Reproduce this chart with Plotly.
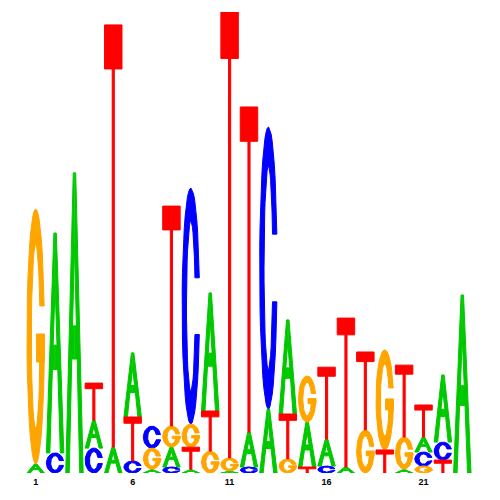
import math
import plotly.graph_objects as go

# ---- data (bits per letter at each position) ----
positions = list(range(1, 24))
A = [0.039, 0.954, 1.302, 0.121, 0.113, 0.278, 0.017, 0.087, 0.017, 0.512, 0.009, 0.152,
     0.278, 0.408, 0.195, 0.117, 0.026, 0.0, 0.0, 0.017, 0.065, 0.291, 0.772]
C = [0.0, 0.087, 0.0, 0.108, 0.0, 0.052, 0.095, 0.026, 1.024, 0.0, 0.0, 0.026,
     1.223, 0.0, 0.0, 0.030, 0.0, 0.0, 0.0, 0.0, 0.061, 0.078, 0.0]
G = [1.106, 0.0, 0.0, 0.0, 0.0, 0.0, 0.091, 0.091, 0.100, 0.095, 0.056, 0.0,
     0.0, 0.061, 0.200, 0.0, 0.0, 0.187, 0.434, 0.139, 0.030, 0.0, 0.0]
T = [0.0, 0.0, 0.0, 0.161, 1.831, 0.191, 0.0, 0.954, 0.095, 0.174, 1.935, 1.410,
     0.0, 0.195, 0.026, 0.312, 0.646, 0.338, 0.100, 0.312, 0.139, 0.056, 0.0]
tick_positions = [1, 6, 11, 16, 21]
tick_labels = ["1", "6", "11", "16", "21"]

COLORS = {"A": "#00C800", "C": "#0000FF", "G": "#FFA500", "T": "#FF0000"}


# ---- glyph templates in a unit box ----
def arc(cx, cy, rx, ry, a0, a1, n=40):
    pts = []
    for i in range(n + 1):
        a = math.radians(a0 + (a1 - a0) * i / n)
        pts.append((cx + rx * math.cos(a), cy + ry * math.sin(a)))
    return pts


def glyph_A(h):
    left = [(0, 0), (0.43, 1), (0.52, 1), (0.52, 0.76), (0.5, 0.76), (0.39, 0.49),
            (0.52, 0.49), (0.52, 0.38), (0.345, 0.38), (0.2, 0)]
    right = [(1 - u, v) for u, v in left]
    return [left, right]


RO, RIU, RIV = 0.5, 0.25, 0.36


def glyph_C(h):
    d = 0.12
    ao = math.degrees(math.asin(d / RO))
    ai = math.degrees(math.asin(d / RIV))
    outer = arc(0.5, 0.5, RO, RO, ao, 360 - ao)
    inner = arc(0.5, 0.5, RIU, RIV, 360 - ai, ai)
    return [outer + inner]


def glyph_G(h):
    d = 0.12
    ao = math.degrees(math.asin(d / RO))
    ai = math.degrees(math.asin(d / RIV))
    outer = arc(0.5, 0.5, RO, RO, ao, 360)
    inner = arc(0.5, 0.5, RIU, RIV, 360, ai)
    bar = [(0.55, 0.40), (1.0, 0.40), (1.0, 0.51), (0.55, 0.51)]
    return [outer + inner, bar]


def glyph_T(h):
    frac = min(0.1 + 0.008 / h, 0.3)
    b = 1 - frac
    bar = [(0, b), (1, b), (1, 1), (0, 1)]
    stem = [(0.44, 0), (0.56, 0), (0.56, b + 0.005), (0.44, b + 0.005)]
    return [bar, stem]


GLYPHS = {"A": glyph_A, "C": glyph_C, "G": glyph_G, "T": glyph_T}

series = {"A": A, "C": C, "G": G, "T": T}
xs = {k: [] for k in series}
ys = {k: [] for k in series}
WIDTH = 0.9

for i, p in enumerate(positions):
    stack = sorted([(series[k][i], k) for k in "ACGT" if series[k][i] > 0])
    base = 0.0
    for h, k in stack:
        for poly in GLYPHS[k](h):
            for u, v in poly:
                xs[k].append(p - WIDTH / 2 + u * WIDTH)
                ys[k].append(base + v * h)
            xs[k].append(poly[0][0] * WIDTH + p - WIDTH / 2)
            ys[k].append(base + poly[0][1] * h)
            xs[k].append(None)
            ys[k].append(None)
        base += h

fig = go.Figure()
for k in "ACGT":
    fig.add_trace(go.Scatter(
        x=xs[k], y=ys[k], mode="lines", fill="toself",
        fillcolor=COLORS[k], line=dict(color=COLORS[k], width=1),
        hoverinfo="skip", showlegend=False, name=k))

fig.update_layout(
    width=500, height=500,
    margin=dict(l=18, r=36, t=4, b=35),
    paper_bgcolor="white", plot_bgcolor="white",
    xaxis=dict(range=[0.5, 23.5], tickmode="array", tickvals=tick_positions,
               ticktext=tick_labels, showgrid=False, zeroline=False, showline=False,
               ticks="", ticklabelstandoff=2,
               tickfont=dict(family="Liberation Sans", size=9, color="black",
                             weight="bold")),
    yaxis=dict(range=[0, 2], visible=False, showgrid=False, zeroline=False),
)

fig.write_html("out.html")
